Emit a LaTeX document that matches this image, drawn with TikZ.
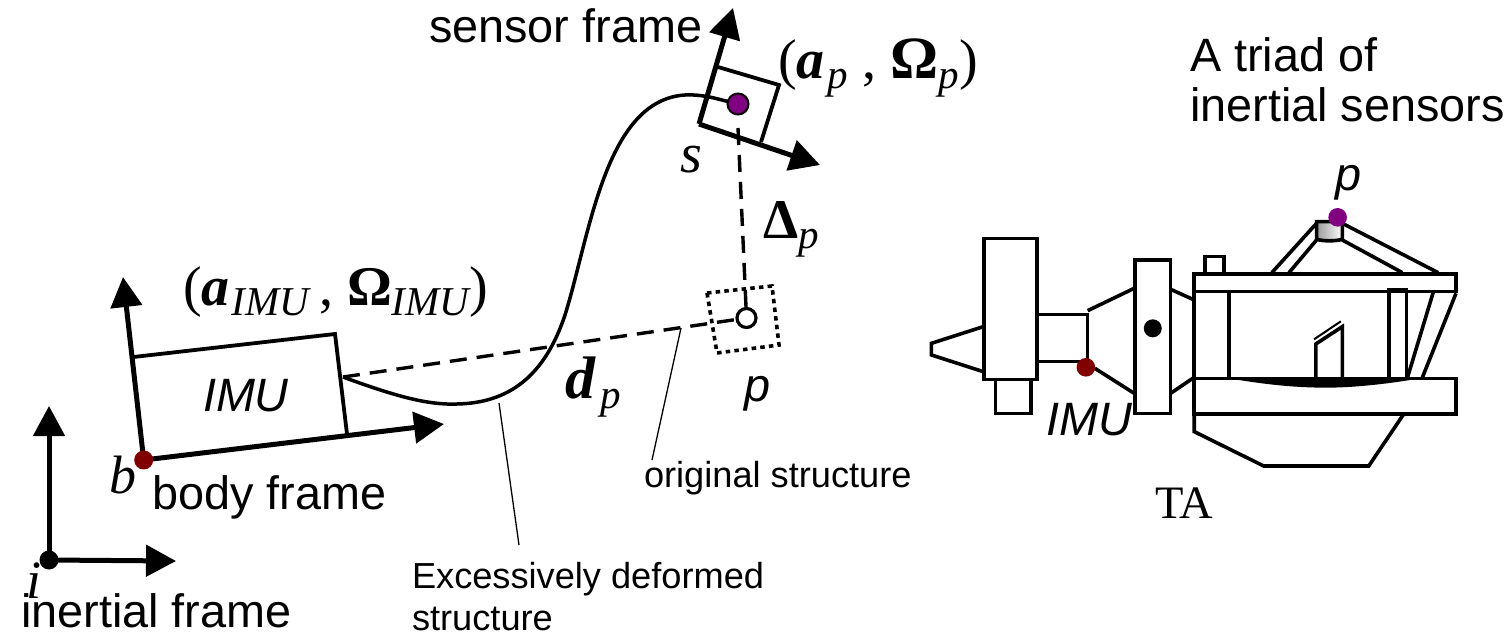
\documentclass[tikz,border=0pt]{standalone}
\usepackage{fontspec}
\setmainfont{Liberation Sans}
\newfontfamily\mf{Liberation Serif}
\usetikzlibrary{arrows.meta}
\newcommand{\sz}[1]{\fontsize{#1}{#1}\selectfont}
\newcommand{\bi}[1]{{\bfseries\itshape #1}}
\newcommand{\bu}[1]{{\bfseries #1}}
\newcommand{\subt}[1]{\raisebox{-10pt}{\sz{41}\itshape #1}}
\tikzset{
  lab/.style={anchor=base west,inner sep=0pt,outer sep=0pt,font=\sz{46.8}},
  small/.style={anchor=base west,inner sep=0pt,outer sep=0pt,font=\sz{36.2}},
  mth/.style={anchor=base west,inner sep=0pt,outer sep=0pt,font=\mf\sz{56}},
  axis/.style={line width=5pt,-{Triangle[length=30pt,width=31pt]}},
  frame/.style={line width=3.8pt},
  beam/.style={line width=3.6pt,line join=miter},
  dsh/.style={line width=3.4pt,dash pattern=on 17pt off 10pt},
  leader/.style={line width=1.3pt},
}
\definecolor{pur}{RGB}{128,0,128}
\definecolor{dred}{RGB}{128,0,0}
\begin{document}
\begin{tikzpicture}[x=1pt,y=-1pt]
\useasboundingbox (0,0) rectangle (1511,634);
% inertial frame
\coordinate (io) at (49,560);
\coordinate (iy) at (49,406);
\coordinate (ix) at (176,561);
\draw[axis] (io) -- (iy);
\draw[axis] (io) -- (ix);
\fill (io) circle (9.5);
% body frame
\coordinate (bo) at (143.7,460);
\coordinate (by) at (123,277);
\coordinate (bx) at (444,424);
\coordinate (imuTL) at (133.5,357);
\coordinate (imuTR) at (335,334);
\coordinate (imuBR) at (347,434);
\coordinate (imuAnchor) at (343,377);
\draw[frame] (imuTL) -- (imuTR) -- (imuBR);
\draw[axis] (bo) -- (by);
\draw[axis] (bo) -- (bx);
\fill[dred] (bo) circle (9.5);
% sensor frame
\coordinate (so) at (699,124);
\coordinate (sy) at (733,8);
\coordinate (sx) at (820,165);
\coordinate (sTL) at (718,67);
\coordinate (sTR) at (779,85);
\coordinate (sBR) at (761,142);
\coordinate (sdot) at (738,104);
\coordinate (pc) at (746.5,318);
\draw[frame] (sTL) -- (sTR) -- (sBR);
\draw[axis] (so) -- (sy);
\draw[axis] (so) -- (sx);
% deformed structure
\draw[line width=3.5pt] (imuAnchor) .. controls (400,398) and (430,405) .. (457,404)
  .. controls (510,403) and (545,375) .. (565,315)
  .. controls (590,235) and (605,100) .. (685,95)
  .. controls (705,94) and (720,100) .. (sdot);
\draw[draw=black,line width=2pt,fill=pur] (sdot) circle (10.5);
% original structure
\draw[dsh] (imuAnchor) -- (pc);
\draw[dsh] (738,128) -- (pc);
\draw[line width=3.6pt,dash pattern=on 4.5pt off 4.2pt] (707,293) -- (772,286) -- (779,345) -- (717,353) -- cycle;
\draw[draw=black,line width=3.2pt,fill=white] (pc) circle (9.5);
% leaders
\coordinate (L1a) at (681,328); \coordinate (L1b) at (652,460);
\coordinate (L2a) at (499,403); \coordinate (L2b) at (519,545);
\draw[leader] (L1a) -- (L1b);
\draw[leader] (L2a) -- (L2b);
% left texts
\node[lab] (t1) at (429,43) {sensor frame};
\node[lab] (t2) at (152,509) {body frame};
\node[lab] (t3) at (21,627) {inertial frame};
\node[lab,font=\sz{46.8}\itshape] (t4) at (203,411) {IMU};
\node[lab,font=\sz{46.8}\itshape] (t5) at (744,401) {p};
\node[small] (t6) at (644,487) {original structure};
\node[small] (t7) at (412,588) {Excessively deformed};
\node[small] (t8) at (412,630) {structure};
\node[mth] (m1) at (778,78) {(\bi{a}\hspace{3pt}\subt{p}\hspace{14pt},\hspace{14pt}{\sz{60}\bu{Ω}}\subt{p}\hspace{1pt})};
\node[mth] (m2) at (183,305) {(\bi{a}\hspace{2pt}\subt{IMU}\hspace{10pt},\hspace{14pt}\bu{Ω}\subt{IMU})};
\node[mth,font=\mf\sz{56}\itshape] (m3) at (680,172) {s};
\node[mth] (m4) at (763,238) {\bu{Δ}\subt{p}};
\node[mth,font=\mf\sz{60}] (m5) at (565,398) {\bi{d}\hspace{5pt}\subt{p}};
\node[mth,font=\mf\sz{54}\itshape] (m6) at (109,493) {b};
\node[mth,font=\mf\sz{54}\itshape] (m7) at (27,598) {i};
% right texts
\node[lab] (t9) at (1190,71) {A triad of};
\node[lab] (t10) at (1190,121) {inertial sensors};
\node[lab,font=\sz{46.8}\itshape] (t11) at (1335,190) {p};
\node[lab,font=\sz{46.8}\itshape] (t12) at (1046,435) {IMU};
\node[anchor=base west,inner sep=0pt,font=\mf\sz{46.5}] (t13) at (1155,518) {TA};
% TA machine, drawn in crop coordinates
\begin{scope}[shift={(919.6,160)},x=0.3576pt,y=-0.3333pt]
\draw[beam] (178,500) -- (33,550) -- (33,585) -- (178,635);
\draw[beam] (180,235) rectangle (328,658);
\draw[beam] (212,658) rectangle (312,760);
\draw[beam] (328,463) -- (470,463) -- (470,605) -- (328,605);
\draw[beam] (470,452) -- (600,385);
\draw[beam] (490,625) -- (600,700);
\draw[beam] (602,300) rectangle (702,760);
\fill (652,505) circle (9pt);
\draw[beam] (702,388) -- (768,420);
\draw[beam] (702,700) -- (768,652);
\draw[beam] (768,342) rectangle (1500,395);
\draw[beam] (768,655) rectangle (1500,762);
\draw[beam] (768,395) -- (768,655);
\draw[beam] (865,395) -- (865,655);
\draw[beam] (798,342) -- (798,290) -- (852,290) -- (852,342);
\draw[beam] (768,762) -- (768,815) -- (962,918) -- (1256,918) -- (1352,765);
% inner members
\draw[beam] (1312,650) -- (1312,388) -- (1362,388) -- (1362,650);
\draw[beam] (1436,398) -- (1365,650);
\draw[beam] (1500,400) -- (1405,655);
% fin
\draw[beam] (1108,655) -- (1108,552) -- (1182,500) -- (1182,655);
\draw[line width=2pt] (1103,538) -- (1178,484);
% lens
\fill (865,655) .. controls (1000,680) and (1080,683) .. (1140,683)
  .. controls (1220,683) and (1320,670) .. (1400,655) -- cycle;
% struts
\draw[beam] (985,338) -- (1110,190);
\draw[beam] (1033,338) -- (1110,240);
\draw[beam] (1182,190) -- (1450,338);
\draw[beam] (1182,240) -- (1350,338);
% triad block
\shade[left color=gray!80,right color=white] (1110,185) rectangle (1182,238);
\draw[beam] (1110,185) -- (1110,238) .. controls (1130,244) and (1162,244) .. (1182,238) -- (1182,185) -- cycle;
\fill[pur] (1169,172) circle (9.3pt);
\fill[dred] (465,622) circle (9.3pt);
\end{scope}
\end{tikzpicture}
\end{document}
